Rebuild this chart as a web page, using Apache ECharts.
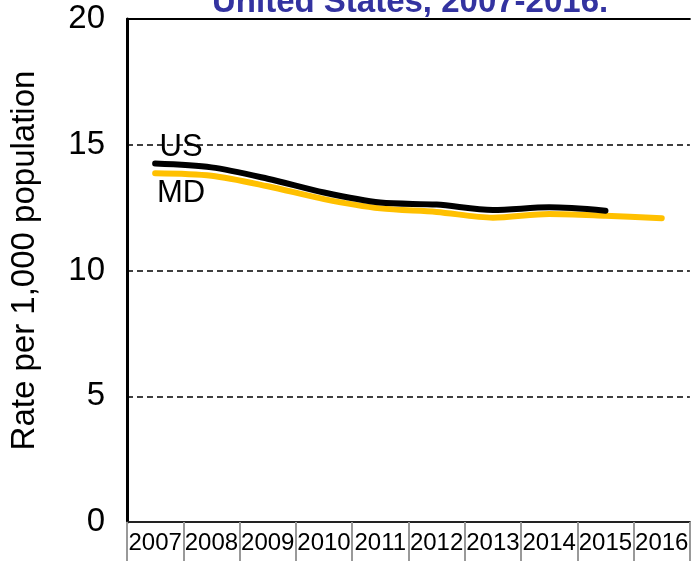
<!DOCTYPE html>
<html>
<head>
<meta charset="utf-8">
<script src="https://cdn.jsdelivr.net/npm/echarts@6/dist/echarts.min.js"></script>
<style>
  html, body { margin: 0; padding: 0; background: #fff; }
  #main { width: 691px; height: 561px; }
</style>
</head>
<body>
<div id="main"></div>
<script>
// 数据
const years = ['2007', '2008', '2009', '2010', '2011', '2012', '2013', '2014', '2015', '2016']
const usRate = [14.25, 14.1, 13.65, 13.1, 12.7, 12.62, 12.41, 12.51, 12.38]
const mdRate = [13.87, 13.77, 13.35, 12.84, 12.47, 12.33, 12.1, 12.25, 12.18, 12.08]
const yTicks = [0, 5, 10, 15, 20]

const font = 'Arial, "Liberation Sans", sans-serif'

// first point carries the series name as label
const withLabel = (arr, name, pos, offset) => arr.map((v, i) => i === 0
  ? { value: v, label: { show: true, formatter: name, position: pos, offset: offset, fontSize: 31, fontFamily: font, color: '#000' } }
  : v)

const myChart = echarts.init(document.getElementById('main'))

const option = {
  animation: false,
  title: {
    text: 'United States, 2007-2016.',
    left: 207,
    top: -19,
    textStyle: { fontSize: 33, fontWeight: 'bold', color: '#3333A0', fontFamily: font }
  },
  grid: { left: 122, top: 19, right: -3, bottom: 39 },
  xAxis: [
    {
      type: 'category',
      data: years,
      boundaryGap: true,
      axisLine: { lineStyle: { color: '#222', width: 2 } },
      axisTick: { show: true, length: 40, lineStyle: { color: '#999', width: 2 } },
      axisLabel: { interval: 0, fontSize: 24, color: '#000', fontFamily: font, margin: 9 }
    },
    {
      // top frame line
      type: 'category',
      data: years,
      position: 'top',
      axisLine: { show: true, lineStyle: { color: '#000', width: 2 } },
      axisTick: { show: false },
      axisLabel: { show: false }
    }
  ],
  yAxis: {
    type: 'value',
    min: yTicks[0],
    max: yTicks[yTicks.length - 1],
    interval: 5,
    name: 'Rate per 1,000 population',
    nameLocation: 'middle',
    nameGap: 86,
    nameTextStyle: { fontSize: 33, color: '#000', fontFamily: font, padding: [0, 0, 0, 20] },
    axisLine: { show: true, lineStyle: { color: '#000', width: 3 } },
    axisTick: { show: false },
    axisLabel: { fontSize: 33, color: '#000', fontFamily: font, margin: 22 },
    splitLine: { lineStyle: { color: '#000', width: 1.5, type: [6, 4] } }
  },
  series: [
    {
      name: 'MD',
      type: 'line',
      data: withLabel(mdRate, 'MD', 'bottom', [26, 0]),
      smooth: 0.3,
      symbol: 'circle',
      symbolSize: 0,
      lineStyle: { color: '#FFC000', width: 6, cap: 'round' },
      itemStyle: { color: '#FFC000' }
    },
    {
      name: 'US',
      type: 'line',
      data: withLabel(usRate, 'US', 'top', [26, 4]),
      smooth: 0.3,
      symbol: 'circle',
      symbolSize: 0,
      lineStyle: { color: '#000', width: 6, cap: 'round' },
      itemStyle: { color: '#000' }
    }
  ]
}

myChart.setOption(option)
</script>
</body>
</html>
